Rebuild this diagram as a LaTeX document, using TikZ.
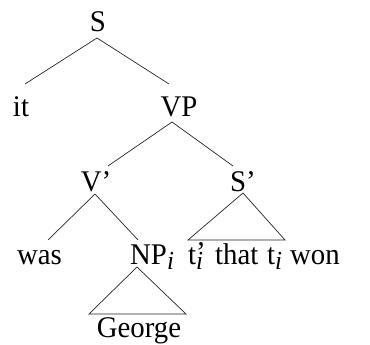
\documentclass[tikz,border=0pt]{standalone}
\usepackage{fontspec}
\setmainfont{Liberation Serif}[FakeStretch=0.96]
\newcommand{\subi}{\raisebox{-5pt}{\fontsize{26}{26}\selectfont\itshape i}}
\begin{document}
\begin{tikzpicture}[x=1pt,y=1pt,
  lbl/.style={inner sep=0pt,font=\fontsize{30}{30}\selectfont},
  edge/.style={line width=0.7pt,draw=black!85}]
\useasboundingbox (0,0) rectangle (370,345);
% nodes
\node[lbl,anchor=base] (S) at (98,313) {S};
\node[lbl,anchor=base] (it) at (21,228) {it};
\node[lbl,anchor=base] (VP) at (179,228) {VP};
\node[lbl,anchor=base] (Vb) at (96,153) {V’};
\node[lbl,anchor=base] (Sb) at (243,153) {S’};
\node[lbl,anchor=base] (was) at (39.5,80) {was};
\node[lbl,anchor=base west] (NP) at (130,80) {NP\subi};
\node[lbl,anchor=base west] (tp) at (188,80) {t\rlap{\raisebox{2pt}{’}}\subi};
\node[lbl,anchor=base west] (that) at (215,80) {that};
\node[lbl,anchor=base west] (ti) at (267,80) {t\subi};
\node[lbl,anchor=base west] (won) at (290,80) {won};
\node[lbl,anchor=base] (George) at (139,7) {George};
% connectors
\draw[edge] ([shift={(-1,-6)}]S.base) -- ([shift={(4,33)}]it.base);
\draw[edge] ([shift={(-1,-6)}]S.base) -- ([shift={(-10,33)}]VP.base);
\draw[edge] ([shift={(-7,-5)}]VP.base) -- ([shift={(12,26)}]Vb.base);
\draw[edge] ([shift={(-7,-5)}]VP.base) -- ([shift={(-10,26)}]Sb.base);
\draw[edge] ([shift={(-1,-2)}]Vb.base) -- ([shift={(8.5,25)}]was.base);
\draw[edge] ([shift={(-1,-2)}]Vb.base) -- ([shift={(8,25)}]NP.base west);
\draw[edge] ([shift={(0,-1)}]Sb.base) -- ([shift={(0,25)}]tp.base west) -- ([shift={(-5,25)}]won.base west) -- cycle;
\draw[edge] ([shift={(7,-2)}]NP.base west) -- ([shift={(-50,24)}]George.base) -- ([shift={(47,24)}]George.base) -- cycle;
\end{tikzpicture}
\end{document}
